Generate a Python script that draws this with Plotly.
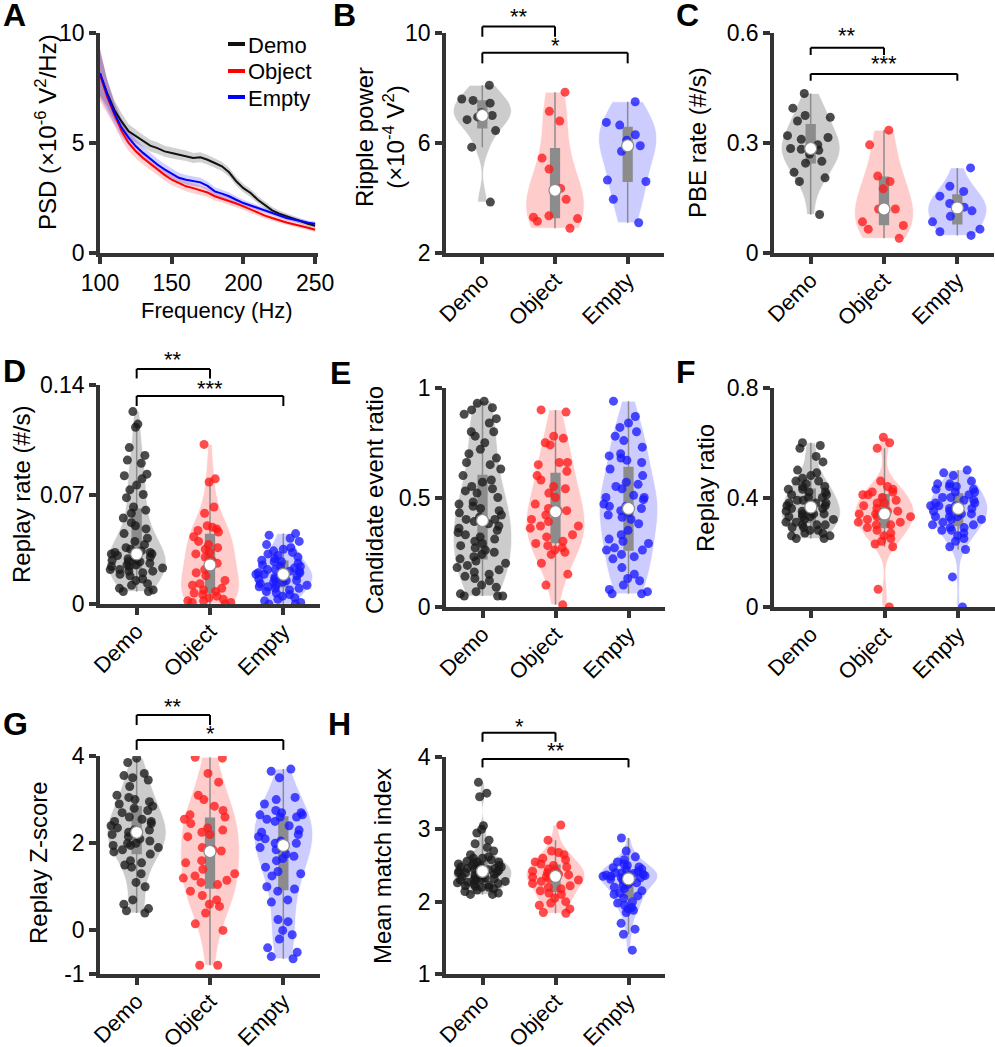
import numpy as np
import plotly.graph_objects as go

W, H = 995, 1047
FONT = "Liberation Sans, Arial, sans-serif"

groups = ["Demo", "Object", "Empty"]

# ---------------- Panel A: PSD ----------------
freq = [100, 105, 110, 115, 120, 125, 130, 135, 140, 145, 150, 155, 160, 165, 170, 175,
        180, 185, 190, 195, 200, 205, 210, 215, 220, 225, 230, 235, 240, 245, 250]
psd_demo = [8.15, 7.27, 6.50, 5.98, 5.53, 5.30, 5.08, 4.88, 4.77, 4.62, 4.55, 4.47, 4.42, 4.32, 4.35, 4.24,
            4.09, 3.94, 3.67, 3.26, 2.95, 2.73, 2.42, 2.20, 1.94, 1.79, 1.67, 1.55, 1.44, 1.33, 1.24]
psd_object = [8.10, 7.10, 6.30, 5.55, 5.00, 4.62, 4.32, 4.05, 3.79, 3.55, 3.33, 3.18, 3.03, 2.95, 2.85, 2.75,
              2.58, 2.48, 2.35, 2.25, 2.12, 1.97, 1.82, 1.70, 1.59, 1.48, 1.39, 1.31, 1.24, 1.15, 1.06]
psd_empty = [8.18, 7.20, 6.36, 5.70, 5.23, 4.85, 4.55, 4.27, 4.02, 3.80, 3.60, 3.42, 3.33, 3.27, 3.21, 3.05,
             2.80, 2.70, 2.58, 2.42, 2.27, 2.16, 2.05, 1.93, 1.82, 1.70, 1.59, 1.52, 1.44, 1.38, 1.33]
sem_demo = [1.00, 0.60, 0.45, 0.38, 0.32, 0.30, 0.28, 0.27, 0.26, 0.25, 0.25, 0.24, 0.24, 0.23, 0.23, 0.22,
            0.22, 0.21, 0.20, 0.20, 0.19, 0.18, 0.17, 0.16, 0.15, 0.14, 0.13, 0.12, 0.12, 0.11, 0.11]
sem_object = [1.20, 0.75, 0.50, 0.42, 0.36, 0.33, 0.30, 0.28, 0.27, 0.26, 0.25, 0.24, 0.23, 0.22, 0.22, 0.21,
              0.20, 0.19, 0.18, 0.17, 0.16, 0.15, 0.14, 0.13, 0.12, 0.12, 0.11, 0.10, 0.10, 0.10, 0.10]
sem_empty = [1.10, 0.70, 0.50, 0.40, 0.34, 0.31, 0.29, 0.27, 0.26, 0.25, 0.24, 0.23, 0.22, 0.22, 0.21, 0.20,
             0.19, 0.18, 0.17, 0.16, 0.15, 0.14, 0.13, 0.12, 0.12, 0.11, 0.11, 0.10, 0.10, 0.10, 0.10]

# ---------------- Panel B: ripple power (x1e-4 V^2) ----------------
ripple_demo = [8.1, 7.6, 7.55, 7.45, 7.1, 7.0, 6.95, 6.85, 6.45, 5.85, 3.85]
ripple_object = [7.85, 7.15, 6.8, 5.45, 5.05, 4.35, 4.28, 3.95, 3.35, 3.3, 3.25, 3.15, 2.9]
ripple_empty = [7.5, 6.75, 6.65, 6.3, 6.1, 5.9, 5.7, 4.65, 4.6, 3.95, 3.1]

# ---------------- Panel C: PBE rate ----------------
pbe_demo = [0.435, 0.395, 0.375, 0.37, 0.36, 0.32, 0.315, 0.31, 0.295, 0.285, 0.283, 0.28, 0.27,
            0.25, 0.245, 0.22, 0.205, 0.195, 0.105]
pbe_object = [0.335, 0.295, 0.21, 0.195, 0.175, 0.12, 0.12, 0.085, 0.075, 0.065, 0.04]
pbe_empty = [0.232, 0.182, 0.168, 0.155, 0.135, 0.125, 0.123, 0.115, 0.1, 0.085, 0.065, 0.058, 0.048]

# ---------------- Panel D: replay rate ----------------
replay_rate_demo = [0.123, 0.115, 0.113, 0.100, 0.095, 0.092, 0.090, 0.083, 0.082, 0.080, 0.076, 0.073,
                    0.070, 0.068, 0.062, 0.060, 0.058, 0.055, 0.052, 0.050, 0.048, 0.045, 0.042, 0.040,
                    0.038, 0.036, 0.035, 0.034, 0.033, 0.033, 0.032, 0.032, 0.031, 0.030, 0.030, 0.029,
                    0.028, 0.028, 0.027, 0.027, 0.026, 0.025, 0.025, 0.024, 0.024, 0.023, 0.022, 0.022,
                    0.021, 0.021, 0.020, 0.019, 0.018, 0.016, 0.015, 0.013, 0.012, 0.010, 0.009, 0.008, 0.008]
replay_rate_object = [0.102, 0.080, 0.078, 0.062, 0.058, 0.050, 0.049, 0.048, 0.047, 0.046, 0.043, 0.040,
                      0.038, 0.036, 0.035, 0.033, 0.032, 0.030, 0.028, 0.026, 0.024, 0.022, 0.020, 0.018,
                      0.015, 0.013, 0.012, 0.010, 0.009, 0.008, 0.007, 0.006, 0.005, 0.004, 0.003, 0.002,
                      0.002, 0.001, 0.001, 0.000]
replay_rate_empty = [0.045, 0.044, 0.042, 0.040, 0.038, 0.036, 0.035, 0.034, 0.033, 0.032, 0.031, 0.030,
                     0.029, 0.028, 0.027, 0.027, 0.026, 0.025, 0.024, 0.024, 0.023, 0.022, 0.022, 0.021,
                     0.021, 0.020, 0.020, 0.019, 0.019, 0.018, 0.018, 0.017, 0.017, 0.016, 0.016, 0.015,
                     0.015, 0.014, 0.014, 0.013, 0.012, 0.012, 0.011, 0.011, 0.010, 0.010, 0.009, 0.008,
                     0.007, 0.006, 0.005, 0.004, 0.003, 0.002, 0.001, 0.000, 0.000]

# ---------------- Panel E: candidate event ratio ----------------
cand_demo = [0.94, 0.93, 0.91, 0.90, 0.88, 0.86, 0.84, 0.80, 0.80, 0.78, 0.75, 0.72, 0.70, 0.68, 0.66,
             0.65, 0.63, 0.60, 0.58, 0.57, 0.55, 0.54, 0.53, 0.52, 0.50, 0.48, 0.47, 0.46, 0.45, 0.44,
             0.43, 0.42, 0.41, 0.40, 0.40, 0.39, 0.38, 0.37, 0.36, 0.35, 0.34, 0.33, 0.32, 0.31, 0.30,
             0.29, 0.28, 0.27, 0.26, 0.25, 0.24, 0.23, 0.22, 0.21, 0.20, 0.19, 0.18, 0.17, 0.16, 0.15,
             0.14, 0.13, 0.12, 0.10, 0.09, 0.07, 0.06, 0.05, 0.05, 0.05]
cand_object = [0.90, 0.89, 0.78, 0.77, 0.75, 0.74, 0.66, 0.66, 0.65, 0.62, 0.60, 0.58, 0.55, 0.54, 0.52,
               0.50, 0.47, 0.45, 0.44, 0.44, 0.43, 0.42, 0.40, 0.39, 0.37, 0.37, 0.36, 0.33, 0.32, 0.30,
               0.29, 0.28, 0.27, 0.26, 0.25, 0.24, 0.20, 0.15, 0.10, 0.01]
cand_empty = [0.94, 0.87, 0.84, 0.82, 0.80, 0.78, 0.76, 0.73, 0.70, 0.69, 0.68, 0.67, 0.66, 0.63, 0.60,
              0.57, 0.56, 0.55, 0.54, 0.51, 0.50, 0.50, 0.49, 0.47, 0.46, 0.46, 0.45, 0.44, 0.43, 0.42,
              0.41, 0.40, 0.38, 0.35, 0.33, 0.31, 0.30, 0.29, 0.27, 0.26, 0.26, 0.24, 0.23, 0.22, 0.18,
              0.15, 0.13, 0.12, 0.10, 0.08, 0.07, 0.06, 0.06]

# ---------------- Panel F: replay ratio ----------------
ratio_demo = [0.60, 0.59, 0.58, 0.55, 0.53, 0.50, 0.49, 0.48, 0.47, 0.46, 0.46, 0.45, 0.44, 0.44, 0.43,
              0.43, 0.42, 0.42, 0.41, 0.41, 0.40, 0.40, 0.39, 0.39, 0.38, 0.38, 0.38, 0.37, 0.37, 0.36,
              0.36, 0.36, 0.35, 0.35, 0.35, 0.34, 0.34, 0.34, 0.33, 0.33, 0.33, 0.32, 0.32, 0.31, 0.31,
              0.30, 0.30, 0.30, 0.29, 0.29, 0.28, 0.28, 0.27, 0.27, 0.26, 0.26, 0.25, 0.25]
ratio_object = [0.62, 0.60, 0.58, 0.46, 0.44, 0.43, 0.42, 0.42, 0.41, 0.41, 0.40, 0.39, 0.38, 0.38, 0.37,
                0.36, 0.35, 0.35, 0.34, 0.34, 0.34, 0.33, 0.33, 0.32, 0.31, 0.31, 0.30, 0.30, 0.29, 0.28,
                0.27, 0.26, 0.25, 0.24, 0.23, 0.22, 0.065, 0.0]
ratio_empty = [0.50, 0.49, 0.48, 0.46, 0.45, 0.45, 0.44, 0.44, 0.43, 0.43, 0.42, 0.42, 0.41, 0.40, 0.40,
               0.39, 0.39, 0.38, 0.38, 0.37, 0.37, 0.37, 0.36, 0.36, 0.36, 0.35, 0.35, 0.34, 0.34, 0.33,
               0.33, 0.33, 0.32, 0.32, 0.31, 0.30, 0.30, 0.29, 0.29, 0.28, 0.28, 0.27, 0.26, 0.25, 0.24,
               0.22, 0.21, 0.11, 0.0]

# ---------------- Panel G: replay Z-score ----------------
z_demo = [3.95, 3.85, 3.6, 3.55, 3.5, 3.45, 3.3, 3.1, 3.05, 3.0, 2.95, 2.9, 2.85, 2.8, 2.75, 2.7, 2.6,
          2.55, 2.5, 2.5, 2.45, 2.4, 2.35, 2.3, 2.3, 2.25, 2.2, 2.2, 2.15, 2.1, 2.05, 2.0, 2.0, 1.95,
          1.95, 1.9, 1.85, 1.8, 1.75, 1.6, 1.55, 1.5, 1.45, 1.3, 1.1, 1.0, 0.7, 0.6, 0.5, 0.45, 0.4]
z_object = [3.97, 3.95, 3.6, 3.4, 3.1, 3.0, 2.85, 2.75, 2.65, 2.6, 2.55, 2.45, 2.35, 2.3, 2.25, 2.2,
            2.15, 1.9, 1.85, 1.82, 1.8, 1.6, 1.55, 1.4, 1.3, 1.25, 1.2, 1.15, 1.1, 1.05, 0.9, 0.8,
            0.7, 0.6, 0.55, 0.4, 0.15, 0.0, -0.8, -0.8]
z_empty = [3.7, 3.65, 3.5, 3.05, 3.0, 2.9, 2.75, 2.7, 2.7, 2.65, 2.65, 2.6, 2.6, 2.55, 2.5, 2.4, 2.3,
           2.25, 2.2, 2.15, 2.1, 2.05, 2.0, 2.0, 1.95, 1.9, 1.85, 1.75, 1.7, 1.65, 1.6, 1.45, 1.35, 1.3,
           1.25, 1.0, 0.95, 0.9, 0.7, 0.65, 0.25, 0.2, 0.0, -0.1, -0.2, -0.4, -0.5, -0.6, -0.65]

# ---------------- Panel H: mean match index ----------------
match_demo = [3.65, 3.5, 3.45, 3.05, 3.0, 2.95, 2.85, 2.8, 2.75, 2.7, 2.65, 2.62, 2.6, 2.6, 2.58, 2.56,
              2.55, 2.55, 2.54, 2.52, 2.5, 2.5, 2.5, 2.48, 2.48, 2.47, 2.46, 2.46, 2.45, 2.44, 2.43, 2.42,
              2.41, 2.4, 2.4, 2.39, 2.38, 2.37, 2.36, 2.35, 2.34, 2.33, 2.32, 2.31, 2.3, 2.3, 2.29, 2.28,
              2.27, 2.26, 2.25, 2.24, 2.23, 2.22, 2.21, 2.2, 2.2, 2.18, 2.16, 2.14, 2.12, 2.1, 2.1]
match_object = [3.06, 2.85, 2.7, 2.68, 2.65, 2.6, 2.58, 2.55, 2.52, 2.5, 2.48, 2.45, 2.43, 2.42, 2.4,
                2.38, 2.37, 2.36, 2.35, 2.34, 2.32, 2.3, 2.28, 2.25, 2.22, 2.2, 2.18, 2.15, 2.12, 2.1,
                2.05, 2.0, 1.98, 1.95, 1.9, 1.85, 1.84]
match_empty = [2.88, 2.7, 2.62, 2.58, 2.55, 2.52, 2.5, 2.48, 2.47, 2.45, 2.44, 2.42, 2.4, 2.4, 2.39,
               2.38, 2.37, 2.36, 2.35, 2.35, 2.34, 2.33, 2.33, 2.32, 2.31, 2.3, 2.28, 2.26, 2.24, 2.22,
               2.2, 2.18, 2.15, 2.12, 2.1, 2.08, 2.05, 2.0, 1.98, 1.95, 1.92, 1.9, 1.88, 1.85, 1.7,
               1.62, 1.55, 1.33]

# ---------------- styling ----------------
line_colors = ["#111111", "#ff0000", "#0000ff"]
band_colors = ["rgba(0,0,0,0.18)", "rgba(255,0,0,0.18)", "rgba(0,0,255,0.18)"]
point_colors = ["#1a1a1a", "#ff1a1a", "#1a1aff"]
violin_fill = ["rgba(0,0,0,0.2)", "rgba(255,0,0,0.2)", "rgba(0,0,255,0.2)"]
AX = "#333333"


def px_x(p):
    return p / W


def px_y(p):
    return 1 - p / H


def xdom(a, b):
    return [a / W, b / W]


def ydom(top, bottom):
    return [1 - bottom / H, 1 - top / H]


def paper_text(text, x, y, size, xanchor="center", angle=0, bold=False):
    return dict(text=f"<b>{text}</b>" if bold else text, x=px_x(x), y=px_y(y), xref="paper",
                yref="paper", xanchor=xanchor, yanchor="middle", textangle=angle,
                showarrow=False, font=dict(size=size, color="black"))


base_axis = dict(showline=True, linewidth=3.5, linecolor=AX, ticks="outside", ticklen=7,
                 tickwidth=3.5, tickcolor=AX, showgrid=False, zeroline=False, automargin=False,
                 tickfont=dict(size=23, color="black", family=FONT), fixedrange=True)

fig = go.Figure()
layout = dict(width=W, height=H, margin=dict(l=0, r=0, t=0, b=0, pad=0, autoexpand=False),
              paper_bgcolor="white", plot_bgcolor="white", showlegend=False,
              violinmode="overlay", hovermode=False, font=dict(family=FONT, color="black"))
annotations = []
shapes = []

# ---- Panel A ----
psd_series = [(psd_demo, sem_demo), (psd_object, sem_object), (psd_empty, sem_empty)]
for i, (m, s) in enumerate(psd_series):
    up = [a + b for a, b in zip(m, s)]
    lo = [a - b for a, b in zip(m, s)]
    fig.add_trace(go.Scatter(x=freq + freq[::-1], y=up + lo[::-1], fill="toself",
                             fillcolor=band_colors[i], line=dict(width=0), mode="lines",
                             xaxis="x", yaxis="y", hoverinfo="skip"))
for i, (m, s) in enumerate(psd_series):
    fig.add_trace(go.Scatter(x=freq, y=m, mode="lines", line=dict(color=line_colors[i], width=2),
                             xaxis="x", yaxis="y", name=groups[i]))

layout["xaxis"] = dict(base_axis, domain=xdom(100, 318), range=[100, 252], anchor="y",
                       tickvals=[100, 150, 200, 250])
layout["yaxis"] = dict(base_axis, domain=ydom(33, 253), range=[0, 10], anchor="x",
                       tickvals=[0, 5, 10])
annotations.append(paper_text("PSD (×10<sup>-6</sup> V<sup>2</sup>/Hz)", 46, 132, 24, angle=-90))
annotations.append(paper_text("Frequency (Hz)", 217, 311, 22))
# legend
for i, gname in enumerate(groups):
    yy = [44, 71, 97][i]
    shapes.append(dict(type="line", xref="paper", yref="paper", x0=px_x(228), x1=px_x(245),
                       y0=px_y(yy), y1=px_y(yy), line=dict(color=line_colors[i], width=4)))
    annotations.append(paper_text(gname, 246, yy + 1, 22, xanchor="left"))

# ---- Violin panels ----
panels = [
    dict(n=2, xd=(446, 664), yd=(33, 253), yr=[2, 10], tv=[2, 6, 10], tt=["2", "6", "10"],
         data=(ripple_demo, ripple_object, ripple_empty),
         title="Ripple power<br>(×10<sup>-4</sup> V<sup>2</sup>)", tx=380, ty=137,
         br=[(1, 1.029, 0.983, "**", 1.075), (2, 0.91, 0.862, "*", 0.945)]),
    dict(n=3, xd=(774, 994), yd=(33, 253), yr=[0, 0.6], tv=[0, 0.3, 0.6], tt=["0", "0.3", "0.6"],
         data=(pbe_demo, pbe_object, pbe_empty), title="PBE rate (#/s)", tx=697, ty=143,
         br=[(1, 0.933, 0.9, "**", 0.99), (2, 0.814, 0.783, "***", 0.862)]),
    dict(n=4, xd=(100, 320), yd=(385, 604), yr=[0, 0.14], tv=[0, 0.07, 0.14],
         tt=["0", "0.07", "0.14"], data=(replay_rate_demo, replay_rate_object, replay_rate_empty),
         title="Replay rate (#/s)", tx=22, ty=495,
         br=[(1, 1.073, 1.03, "**", 1.117), (2, 0.95, 0.904, "***", 0.985)]),
    dict(n=5, xd=(446, 665), yd=(388, 607), yr=[0, 1], tv=[0, 0.5, 1], tt=["0", "0.5", "1"],
         data=(cand_demo, cand_object, cand_empty), title="Candidate event ratio", tx=374, ty=500,
         br=[]),
    dict(n=6, xd=(774, 995), yd=(388, 607), yr=[0, 0.8], tv=[0, 0.4, 0.8], tt=["0", "0.4", "0.8"],
         data=(ratio_demo, ratio_object, ratio_empty), title="Replay ratio", tx=705, ty=488, br=[]),
    dict(n=7, xd=(100, 320), yd=(756, 974), yr=[-1, 4], tv=[-1, 0, 2, 4],
         tt=["-1", "0", "2", "4"], data=(z_demo, z_object, z_empty), title="Replay Z-score",
         tx=38, ty=863, br=[(1, 1.188, 1.142, "**", 1.229), (2, 1.073, 1.028, "*", 1.104)]),
    dict(n=8, xd=(446, 665), yd=(757, 974), yr=[1, 4], tv=[1, 2, 3, 4], tt=["1", "2", "3", "4"],
         data=(match_demo, match_object, match_empty), title="Mean match index", tx=382, ty=866,
         br=[(1, 1.112, 1.07, "*", 1.14), (2, 0.991, 0.952, "**", 1.032)]),
]

for p in panels:
    n = p["n"]
    xa, ya = f"x{n}", f"y{n}"
    for i, vals in enumerate(p["data"]):
        fig.add_trace(go.Violin(
            x=[i] * len(vals), y=vals, xaxis=xa, yaxis=ya, width=0.8, spanmode="hard",
            scalemode="width", points="all", pointpos=0, jitter=1.0,
            fillcolor=violin_fill[i], line=dict(color="rgba(255,255,255,0.9)", width=0.8),
            marker=dict(color=point_colors[i], size=9, opacity=0.78, line=dict(width=0)),
            box=dict(visible=True, width=0.15, fillcolor="#8c8c8c",
                     line=dict(color="#8c8c8c", width=1.5)),
            meanline=dict(visible=False), showlegend=False, hoverinfo="skip", name=groups[i]))
    med = [float(np.median(v)) for v in p["data"]]
    fig.add_trace(go.Scatter(x=[0, 1, 2], y=med, mode="markers", xaxis=xa, yaxis=ya,
                             marker=dict(color="white", size=12,
                                         line=dict(color="#8c8c8c", width=1.2)),
                             hoverinfo="skip", cliponaxis=False))
    layout[f"xaxis{n}"] = dict(base_axis, domain=xdom(*p["xd"]), range=[-0.5, 2.5], anchor=ya,
                               tickvals=[0, 1, 2], ticktext=groups, tickangle=-45,
                               ticklabelstandoff=-5,
                               tickfont=dict(size=22, color="black", family=FONT))
    layout[f"yaxis{n}"] = dict(base_axis, domain=ydom(*p["yd"]), range=p["yr"], anchor=xa,
                               tickvals=p["tv"], ticktext=p["tt"])
    annotations.append(paper_text(p["title"], p["tx"], p["ty"], 24, angle=-90))
    for (x1, ytop, yend, txt, ytxt) in p["br"]:
        for (a0, b0, a1, b1) in [(0, yend, 0, ytop), (0, ytop, x1, ytop), (x1, ytop, x1, yend)]:
            shapes.append(dict(type="line", xref=xa, yref=f"{ya} domain", x0=a0, x1=a1,
                               y0=b0, y1=b1, line=dict(color="black", width=2)))
        annotations.append(dict(text=txt, x=x1 / 2, y=ytxt, xref=xa, yref=f"{ya} domain",
                                showarrow=False, xanchor="center", yanchor="middle",
                                font=dict(size=22, color="black")))

# panel letters
letters = [("A", 14, 15), ("B", 344, 15), ("C", 687, 15), ("D", 14, 371), ("E", 340, 373),
           ("F", 686, 372), ("G", 15, 724), ("H", 339, 724)]
for (t, lx, ly) in letters:
    annotations.append(paper_text(t, lx, ly, 32, bold=True))

layout["annotations"] = annotations
layout["shapes"] = shapes
fig.update_layout(**layout)
fig.write_html("out.html", config={"displayModeBar": False},
               post_script="document.body.style.margin='0px';")
